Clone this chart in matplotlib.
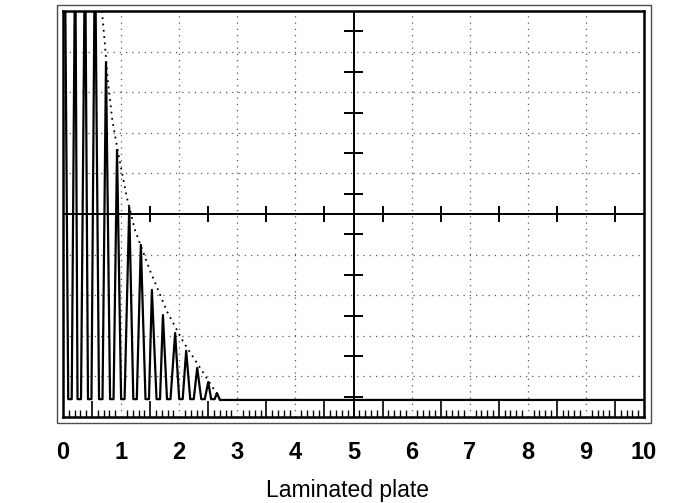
import numpy as np
import matplotlib
matplotlib.use("Agg")
import matplotlib.pyplot as plt
from matplotlib.patches import Rectangle

# values (screen divisions, 0..10 each way)
peak_x = [0.03, 0.21, 0.38, 0.55, 0.74, 0.93, 1.14, 1.34, 1.53, 1.72, 1.93, 2.12, 2.31, 2.50, 2.65]
peak_y = [12.0, 12.0, 12.0, 12.0, 8.74, 6.58, 5.17, 4.24, 3.13, 2.51, 2.07, 1.63, 1.21, 0.86, 0.59]
valley_x = [0.12, 0.28, 0.46, 0.65, 0.84, 1.03, 1.24, 1.45, 1.64, 1.82, 2.03, 2.22, 2.41, 2.58]
base_level = 0.44
tail_x = [2.70, 10.0]
tail_y = [0.42, 0.42]

env_x = [0.67, 0.72, 0.77, 0.85, 0.95, 1.10, 1.24, 1.50, 1.79, 2.07, 2.41, 2.70]
env_y = [10.0, 9.2, 8.3, 7.3, 6.5, 5.4, 4.6, 3.6, 2.6, 1.85, 1.1, 0.45]

x_labels = ['0', '1', '2', '3', '4', '5', '6', '7', '8', '9', '10']
x_title = 'Laminated plate'

plt.rcParams['font.family'] = ['Liberation Sans', 'DejaVu Sans']

fig = plt.figure(figsize=(6.79, 5.03), dpi=100)
ax = fig.add_axes([63 / 679, 86 / 503, 581 / 679, 406 / 503])
ax.set_xlim(0, 10)
ax.set_ylim(0, 10)

# graticule
dot = (0, (1, 4))
for g in range(1, 10):
    if g == 5: continue
    ax.axvline(g, color='0.35', lw=0.9, ls=dot)
    ax.axhline(g, color='0.35', lw=0.9, ls=dot)
ax.axvline(5, color='black', lw=1.4)
ax.axhline(5, color='black', lw=1.4)

half = np.arange(0.5, 10, 1.0)
ax.hlines(half, 4.845, 5.155, color='black', lw=1.4)
ax.vlines(half[1:], 4.8, 5.2, color='black', lw=1.4)

# bottom scale strip
minor = np.round(np.arange(0.1, 10, 0.1), 2)
minor = minor[(np.abs(minor % 1 - 0.5) > 0.01) & (np.abs(minor % 1) > 0.01)]
ax.vlines(minor, 0, 0.18, color='black', lw=1.0)
ax.vlines(half, 0, 0.39, color='black', lw=1.2)

# trace
tx, ty = [], []
for i, px in enumerate(peak_x):
    tx.append(px); ty.append(peak_y[i])
    if i < len(valley_x):
        tx += [valley_x[i] - 0.03, valley_x[i] + 0.03]
        ty += [base_level, base_level]
tx += tail_x
ty += tail_y
ax.plot(tx, ty, color='black', lw=1.6, solid_joinstyle='round')

# envelope
ax.plot(env_x, env_y, color='black', lw=1.3, ls=(0, (1, 2.5)))

# frames
for s in ax.spines.values():
    s.set_linewidth(1.8)
ax.add_patch(Rectangle((-0.103, -0.148), 10.223, 10.298, fill=False,
                       edgecolor='0.3', lw=1.0, clip_on=False))

ax.set_yticks([])
ax.set_xticks(range(11))
ax.set_xticklabels(x_labels, fontsize=17, fontweight='bold')
ax.tick_params(axis='x', length=0, pad=17)

fig.text(347 / 679, 6 / 503, x_title, ha='center', va='baseline', fontsize=16.5)

fig.savefig('out.png', dpi=100, facecolor='white')
